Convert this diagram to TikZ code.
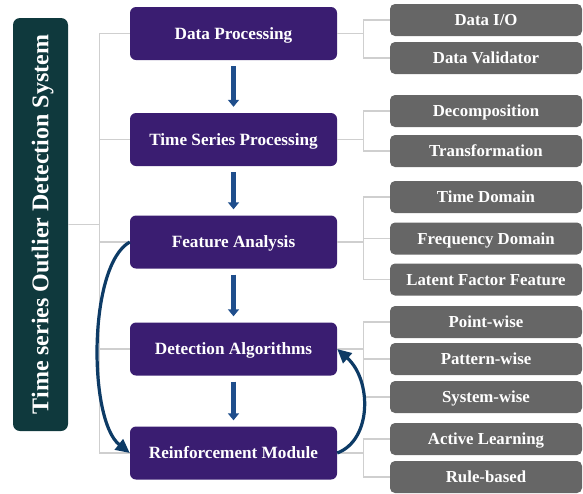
\documentclass[tikz,border=0pt]{standalone}
\usepackage{fontspec}
\setmainfont{Liberation Serif}
\usetikzlibrary{arrows.meta}
\definecolor{mainpurple}{HTML}{3A1D71}
\definecolor{titleteal}{HTML}{0F393D}
\definecolor{subgray}{HTML}{666666}
\definecolor{connline}{HTML}{CFCFCF}
\definecolor{flowblue}{HTML}{1F4E8C}
\definecolor{loopnavy}{HTML}{0D3B66}
\tikzset{
  mainbox/.style={draw=none, fill=mainpurple, rounded corners=6pt, minimum width=207pt, minimum height=53pt, inner sep=0pt, text=white, font=\fontsize{17.2}{19}\selectfont\bfseries, text height=11.4pt, text depth=0pt},
  subbox/.style={draw=none, fill=subgray, rounded corners=5pt, minimum width=192pt, minimum height=32pt, inner sep=0pt, text=white, font=\fontsize{16.8}{19}\selectfont\bfseries, text height=11.1pt, text depth=0pt},
  titlebox/.style={draw=none, fill=titleteal, rounded corners=7pt, minimum width=413pt, minimum height=55pt, inner sep=0pt, text=white, font=\fontsize{24}{26}\selectfont\bfseries, rotate=90, text height=15.8pt, text depth=0pt},
  conn/.style={draw=connline, line width=1.2pt},
  flow/.style={draw=flowblue, line width=4.5pt, -{Triangle[width=11pt,length=7pt]}, shorten <=6pt, shorten >=6pt},
  loop/.style={draw=loopnavy, line width=3.2pt, -{Triangle[width=13pt,length=14pt]}},
}
\begin{document}
\begin{tikzpicture}[x=1pt,y=1pt]
\useasboundingbox (0,0) rectangle (583,-493);
% title
\node[titlebox] (title) at (40.5,-224.5) {Time series Outlier Detection System};
% main boxes
\node[mainbox] (dp) at (233.5,-33.5) {Data Processing};
\node[mainbox] (tsp) at (233.5,-139.5) {Time Series Processing};
\node[mainbox] (fa) at (233.5,-242) {Feature Analysis};
\node[mainbox] (da) at (233.5,-349) {Detection Algorithms};
\node[mainbox] (rm) at (233.5,-453) {Reinforcement Module};
% sub boxes
\node[subbox] (io) at (486,-20) {Data I/O};
\node[subbox] (dv) at (486,-58) {Data Validator};
\node[subbox] (dec) at (486,-111) {Decomposition};
\node[subbox] (tr) at (486,-151) {Transformation};
\node[subbox] (td) at (486,-197) {Time Domain};
\node[subbox] (fd) at (486,-238.5) {Frequency Domain};
\node[subbox] (lf) at (486,-279.5) {Latent Factor Feature};
\node[subbox] (pw) at (486,-322) {Point-wise};
\node[subbox] (paw) at (486,-359) {Pattern-wise};
\node[subbox] (sw) at (486,-397) {System-wise};
\node[subbox] (al) at (486,-439) {Active Learning};
\node[subbox] (rb) at (486,-477) {Rule-based};
% title connectors
\draw[conn] (title.south) -- ++(31,0) coordinate (tj);
\coordinate (ttop) at (tj |- dp.west);
\coordinate (tbot) at (tj |- rm.west);
\draw[conn] (ttop) -- (tbot);
\foreach \m in {dp,tsp,fa,da,rm} { \draw[conn] (tj |- \m.west) -- (\m.west); }
% sub connectors
\foreach \m/\a/\b in {dp/io/dv, tsp/dec/tr, fa/td/lf, da/pw/sw, rm/al/rb} {
  \draw[conn] (\m.east) -- ++(26,0) coordinate (j\m);
  \draw[conn] (j\m |- \a.west) -- (j\m |- \b.west);
  \draw[conn] (j\m |- \a.west) -- (\a.west);
  \draw[conn] (j\m |- \b.west) -- (\b.west);
}
\draw[conn] (jfa |- fd.west) -- (fd.west);
\draw[conn] (jda |- paw.west) -- (paw.west);
% flow arrows
\draw[flow] (dp.south) -- (tsp.north);
\draw[flow] (tsp.south) -- (fa.north);
\draw[flow] (fa.south) -- (da.north);
\draw[flow] (da.south) -- (rm.north);
% loop arrows
\draw[loop] (fa.west) .. controls (88,-265) and (88,-420) .. (rm.west);
\draw[loop] (rm.east) .. controls (372,-440) and (372,-380) .. (da.east);
\end{tikzpicture}
\end{document}
